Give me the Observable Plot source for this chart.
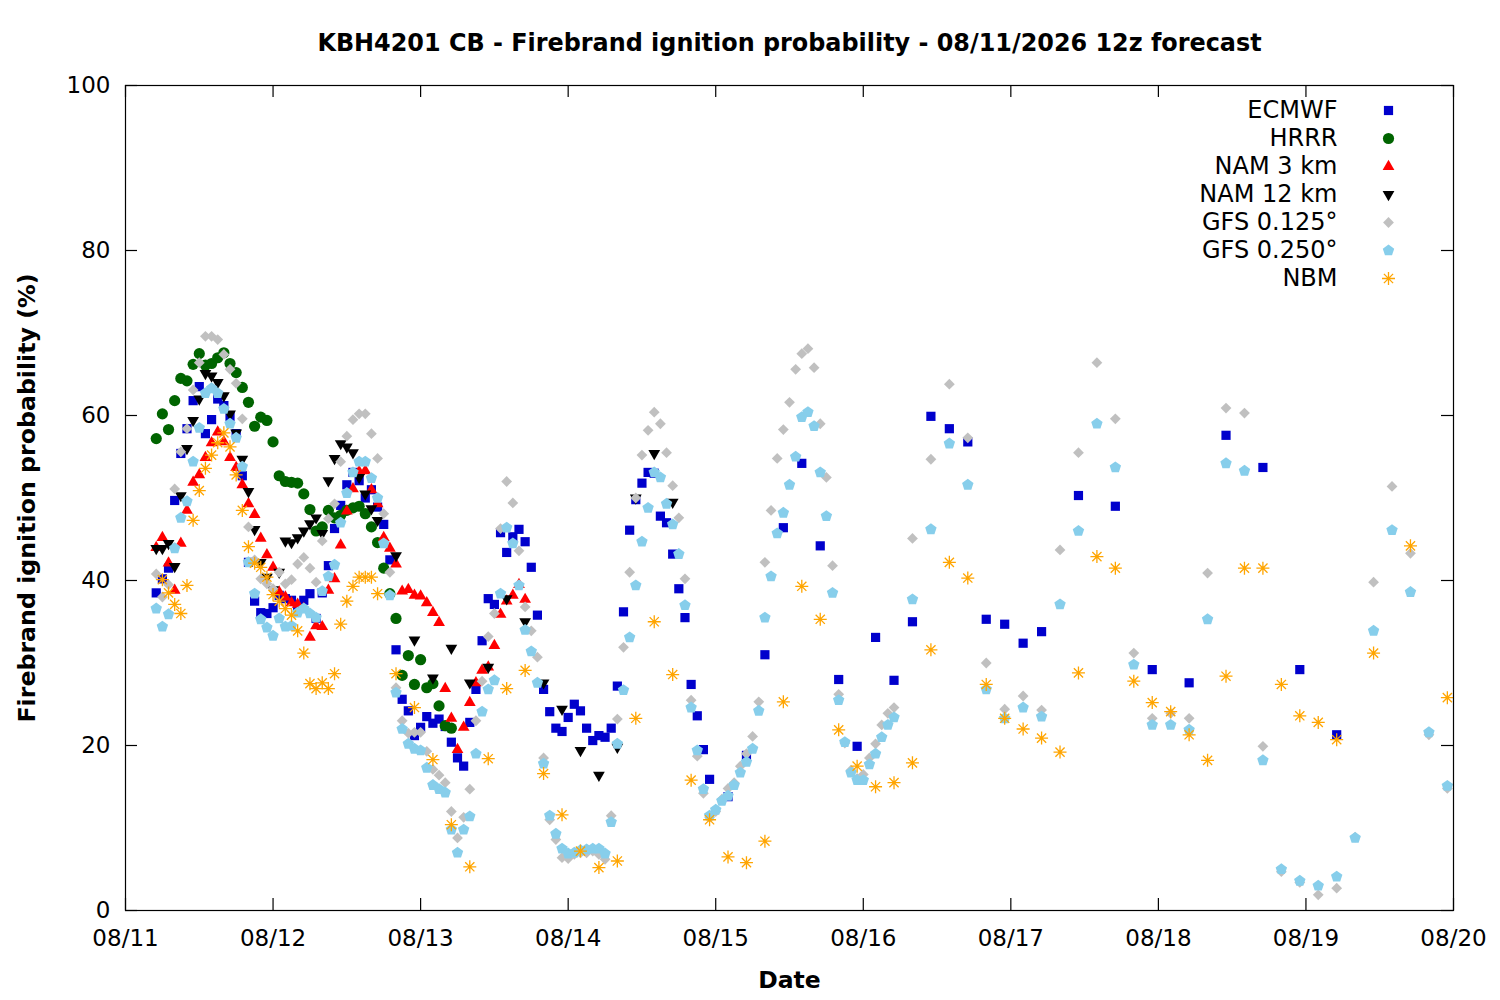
<!DOCTYPE html>
<html><head><meta charset="utf-8">
<script src="https://cdn.jsdelivr.net/npm/d3@7"></script>
<script src="https://cdn.jsdelivr.net/npm/@observablehq/plot@0.6"></script>
<style>body{margin:0;background:#fff} svg{display:block}</style>
</head><body><div id="chart"></div>
<script>
// ---- labels ----
const titleText = "KBH4201 CB - Firebrand ignition probability - 08/11/2026 12z forecast";
const xLabel = "Date";
const yLabel = "Firebrand ignition probability (%)";
const dayHours = [0, 24, 48, 72, 96, 120, 144, 168, 192, 216];
const dayLabels = ["08/11", "08/12", "08/13", "08/14", "08/15", "08/16", "08/17", "08/18", "08/19", "08/20"];
const yTicks = [0, 20, 40, 60, 80, 100];
const seriesNames = ["ECMWF", "HRRR", "NAM 3 km", "NAM 12 km", "GFS 0.125°", "GFS 0.250°", "NBM"];

// ---- values (hours counted from 08/11 00 local) ----
// ECMWF: hourly from h5, 3-hourly from h98, 6-hourly from h155
const ecmwfHourly = [38.5,40.2,41.5,49.7,55.4,58.4,61.8,63.5,57.8,59.5,62,61.2,59.9,57.8,52.7,42.2,37.5,36.1,36,36.7,38.2,37.8,37.6,36.7,37.6,38.4,35.4,38.5,41.8,46.3,49.1,51.6,53.1,52.1,50,51,48.9,46.8,42.5,31.6,25.6,24.2,21.2,22.2,23.5,22.7,23.2,22.3,20.4,18.5,17.5,22.8,26.8,32.7,37.8,37.1,45.8,43.4,45.3,46.2,44.7,41.6,35.8,26.8,24.1,22.1,21.7,23.4,25,24.2,22.1,20.6,21.2,21,22.1,27.2,36.2,46.1,49.8,51.8,53.1,53,47.8,47,43.2,39,35.5,27.4,23.6,19.5,15.9];
const ecmwf3h = [13.8,18.8,31,46.4,54.2,44.2,28,19.9,33.1,27.9,35,59.9,58.4,56.8,35.3,34.7,32.4,33.8];
const ecmwf6h = [50.3,49,29.2,27.6,57.6,53.7,29.2,21.3];
// HRRR: hourly from h5
const hrrrHourly = [57.2,60.2,58.3,61.8,64.5,64.2,66.2,67.5,66.1,66.3,67,67.6,66.3,65.2,63.4,61.6,58.7,59.8,59.4,56.8,52.7,52,51.9,51.8,50.5,48.6,46,46.5,48.5,47.6,47.9,48.5,48.8,49,48.1,46.5,44.6,41.5,38.4,35.4,28.5,30.9,27.4,30.4,27,27.5,24.8,22.4,22.1];
// NAM 3 km: hourly from h5
const nam3Hourly = [44,45.2,42.1,38.8,44.5,48.5,51.9,52.8,54.9,56.7,58,56.8,54.9,53.7,51.6,49.3,48,45.1,43.1,41.6,38.6,38,37.3,37.1,36.6,33.1,34.5,34.4,38.8,40.2,44.3,48.4,51.1,53.2,53.3,51,49.3,45.2,43.9,42,38.7,38.9,38.2,38.1,37.3,36.1,34.9,26.9,23.3,19.5,22.2,25.2,27.6,29.1,29.5,32.1,35.9,37.5,38.2,39.5,37.7];
// NAM 12 km: hourly from h5, 3-hourly from h44
const nam12Hourly = [43.9,43.9,44.5,41.7,50.3,56,59.4,62,65.1,64.8,64,62.4,60.2,57.9,54.7,50.8,46.2,42.2,40.4,38.9,41,44.8,44.6,45.2,46,46.9,47.6,45.7,52.1,54.8,56.6,56.2,55.5,52.5,50.5,48.7,47.3];
const nam12_3h = [43,32.8,28.2,31.8,27.6,29.5,37.8,35,27.6,24.4,19.4,16.4,19.8,50,55.4,49.5];
// GFS 0.125: hourly from h5, 3-hourly from h128
const gfs125Hourly = [40.8,38,39.5,51.1,55.6,58.4,63.1,66.4,69.6,69.6,69.2,67.4,65.6,63.9,59.6,46.5,42.5,40.2,39.6,39,41,39.6,40.1,42,42.8,41.5,39.8,44.8,47.5,49.3,54.4,57.5,59.5,60.2,60.2,57.8,54.8,48.1,41,27,23,21.5,21.6,21.6,19.3,17.1,16.4,15.5,12,8.8,11.3,14.7,23,27.8,33.2,36,46.3,52,49.4,43.6,36.8,33.9,30.7,18.5,11,8.6,6.4,6.3,6.8,7,7,7.2,6.8,6.2,11.5,23.2,31.9,41,50,55.2,58.2,60.4,59,55.5,51.5,47.6,40.2,25.5,18.7,14.2,11.3,12,13.5,14.8,15.5,17.5,19,21.1,25.3,42.2,48.5,54.8,58.3,61.6,65.6,67.5,68.1,65.8,59,52.5,41.8,26.2,20.3,17,16,16.5,18.5,20.2,22.5,23.9,24.6];
const gfs125_3h = [45.1,54.7,63.8,57.3,30,24.4,26,24.3,43.7,55.5,66.4,59.6,31.2,23.3,23.9,23.3,40.9,60.9,60.3,19.9,4.7,3.4,1.9,2.7,8.9,39.8,51.4,43.3,21.3,14.8];
// GFS 0.250: hourly from h5, 3-hourly from h128
const gfs250Hourly = [36.6,34.4,35.9,43.9,47.6,49.6,54.4,58.5,62.7,63.3,62.7,60.8,59,57.3,53.8,42.2,38.4,35.3,34.3,33.3,35.4,34.4,34.5,36.1,36.6,36,35.5,38.7,40.5,41.9,47,50.6,53.1,54.4,54.4,52.4,50,44.5,38.2,26.4,22,20.2,19.6,19.4,17.3,15.2,14.7,14.3,9.8,7,9.8,11.4,19,24.1,26.8,27.9,38.4,46.4,44.5,39.4,34,31.4,27.6,17.8,11.5,9.3,7.5,6.9,7,7.3,7.4,7.5,7.5,6.9,10.7,20.2,26.7,33.1,39.4,44.7,48.8,53.1,52.5,49.3,46.8,43.2,37,24.6,19.4,14.7,11.5,12.2,13.3,13.9,15.2,16.7,18,19.6,24.2,35.5,40.5,45.7,48.2,51.6,55,59.8,60.4,58.7,53.1,47.8,38.5,25.5,20.4,16.7,15.8,15.8,17.7,19,21,22.5,23.4];
const gfs250_3h = [37.7,46.2,56.6,51.6,26.8,23.3,24.6,23.5,37.1,46,59,53.7,29.8,22.5,22.5,21.9,35.3,54.2,53.3,18.2,5,3.6,3,4.1,8.8,33.9,46.1,38.6,21.6,15.1];
// NBM: hourly from h6, 3-hourly from h44, 6-hourly from h203
const nbmHourly = [40.1,38.5,37.1,36,39.4,47.3,50.9,53.6,55.2,56.7,57.9,56.2,52.8,48.5,44.1,42.1,41.6,40.4,38.3,37.5,36.6,35.8,33.9,31.2,27.5,26.9,27.6,26.9,28.7,34.7,37.5,39.3,40.4,40.4,40.4,38.4];
const nbm3h = [28.7,24.6,18.3,10.4,5.3,18.4,26.9,29.1,16.6,11.6,7.2,5.2,6,23.3,35,28.6,15.8,11,6.5,5.8,8.4,25.3,39.3,35.3,21.9,17.5,15,15.5,17.9,31.6,42.2,40.3,27.4,23.3,22,20.9,19.2,28.8,42.9,41.5,27.8,25.2,24.1,21.3,18.2,28.4,41.5,41.5,27.4,23.6,22.8,20.7];
const nbm6h = [31.2,44.2,25.8];

// ---- build tables ----
const seg = (start, step, values) => values.map((v, i) => ({h: start + step * i, v}));
const tables = [
  [...seg(5, 1, ecmwfHourly), ...seg(98, 3, ecmwf3h), ...seg(155, 6, ecmwf6h)],
  seg(5, 1, hrrrHourly),
  seg(5, 1, nam3Hourly),
  [...seg(5, 1, nam12Hourly), ...seg(44, 3, nam12_3h)],
  [...seg(5, 1, gfs125Hourly), ...seg(128, 3, gfs125_3h)],
  [...seg(5, 1, gfs250Hourly), ...seg(128, 3, gfs250_3h)],
  [...seg(6, 1, nbmHourly), ...seg(44, 3, nbm3h), ...seg(203, 6, nbm6h)]
];

// ---- custom symbols ----
const rad = s => Math.sqrt(s / Math.PI);
const symSquare = {draw(c, s) { const r = rad(s); c.moveTo(-r, -r); c.lineTo(r, -r); c.lineTo(r, r); c.lineTo(-r, r); c.closePath(); }};
const symCircle = {draw(c, s) { const r = rad(s); c.moveTo(r, 0); c.arc(0, 0, r, 0, 2 * Math.PI); }};
const symTriUp = {draw(c, s) { const r = rad(s); c.moveTo(0, -r); c.lineTo(0.866 * r, 0.5 * r); c.lineTo(-0.866 * r, 0.5 * r); c.closePath(); }};
const symTriDown = {draw(c, s) { const r = rad(s); c.moveTo(0, r); c.lineTo(0.866 * r, -0.5 * r); c.lineTo(-0.866 * r, -0.5 * r); c.closePath(); }};
const symDiamond = {draw(c, s) { const r = rad(s); c.moveTo(0, -r); c.lineTo(r, 0); c.lineTo(0, r); c.lineTo(-r, 0); c.closePath(); }};
const symPentagon = {draw(c, s) { const r = rad(s); for (let k = 0; k < 5; k++) { const a = -Math.PI / 2 + k * 2 * Math.PI / 5; const px = r * Math.cos(a), py = r * Math.sin(a); if (k === 0) c.moveTo(px, py); else c.lineTo(px, py); } c.closePath(); }};
const symAsterisk = {draw(c, s) { const r = rad(s); const d = r * 0.7071; c.moveTo(-r, 0); c.lineTo(r, 0); c.moveTo(0, -r); c.lineTo(0, r); c.moveTo(-d, -d); c.lineTo(d, d); c.moveTo(-d, d); c.lineTo(d, -d); }};

const styles = [
  {symbol: symSquare, color: "#0000cc", r: 4.6, fill: true},
  {symbol: symCircle, color: "#006400", r: 5.6, fill: true},
  {symbol: symTriUp, color: "#ff0000", r: 6.8, fill: true},
  {symbol: symTriDown, color: "#000000", r: 6.8, fill: true},
  {symbol: symDiamond, color: "#c0c0c0", r: 5.4, fill: true},
  {symbol: symPentagon, color: "#87ceeb", r: 6.0, fill: true},
  {symbol: symAsterisk, color: "#ffa500", r: 6.5, fill: false}
];

const dotOpts = (st) => st.fill
  ? {symbol: st.symbol, r: st.r, fill: st.color, stroke: "none"}
  : {symbol: st.symbol, r: st.r, fill: "none", stroke: st.color, strokeWidth: 1.3};

const marks = [];
// data
tables.forEach((t, i) => marks.push(Plot.dot(t, {x: "h", y: "v", ...dotOpts(styles[i])})));
// frame + inward ticks
const innerW = 1500 - 125 - 47, innerH = 1000 - 85 - 90, tl = 12;
marks.push(Plot.frame({stroke: "black", strokeWidth: 1.2}));
marks.push(Plot.tickX(dayHours, {x: d => d, insetTop: innerH - tl, stroke: "black", strokeWidth: 1.2}));
marks.push(Plot.tickX(dayHours, {x: d => d, insetBottom: innerH - tl, stroke: "black", strokeWidth: 1.2}));
marks.push(Plot.tickY(yTicks, {y: d => d, insetRight: innerW - tl, stroke: "black", strokeWidth: 1.2}));
marks.push(Plot.tickY(yTicks, {y: d => d, insetLeft: innerW - tl, stroke: "black", strokeWidth: 1.2}));
// axes
marks.push(Plot.axisX({ticks: dayHours, tickFormat: d => dayLabels[dayHours.indexOf(d)], tickSize: 0, tickPadding: 19, fontSize: 23, label: null}));
marks.push(Plot.axisY({ticks: yTicks, tickSize: 0, tickPadding: 15, fontSize: 23, label: null}));
// titles
marks.push(Plot.text([titleText], {text: d => d, frameAnchor: "top", lineAnchor: "middle", dy: -42, fontSize: 23.9, fontWeight: "bold"}));
marks.push(Plot.text([xLabel], {text: d => d, frameAnchor: "bottom", lineAnchor: "middle", dy: 70, fontSize: 23.5, fontWeight: "bold"}));
marks.push(Plot.text([yLabel], {text: d => d, frameAnchor: "left", textAnchor: "middle", lineAnchor: "middle", dx: -98, rotate: -90, fontSize: 23.7, fontWeight: "bold"}));
// legend
seriesNames.forEach((name, i) => {
  marks.push(Plot.text([name], {text: d => d, frameAnchor: "top-right", lineAnchor: "middle", dx: -116, dy: 25 + 28 * i, textAnchor: "end", fontSize: 24}));
  marks.push(Plot.dot([name], {frameAnchor: "top-right", dx: -65, dy: 25 + 28 * i, ...dotOpts(styles[i])}));
});

const chart = Plot.plot({
  width: 1500, height: 1000,
  marginLeft: 125, marginRight: 47, marginTop: 85, marginBottom: 90,
  x: {domain: [0, 216]},
  y: {domain: [0, 100]},
  style: {fontFamily: "DejaVu Sans", background: "white", color: "black"},
  marks
});
document.getElementById("chart").append(chart);
</script></body></html>
